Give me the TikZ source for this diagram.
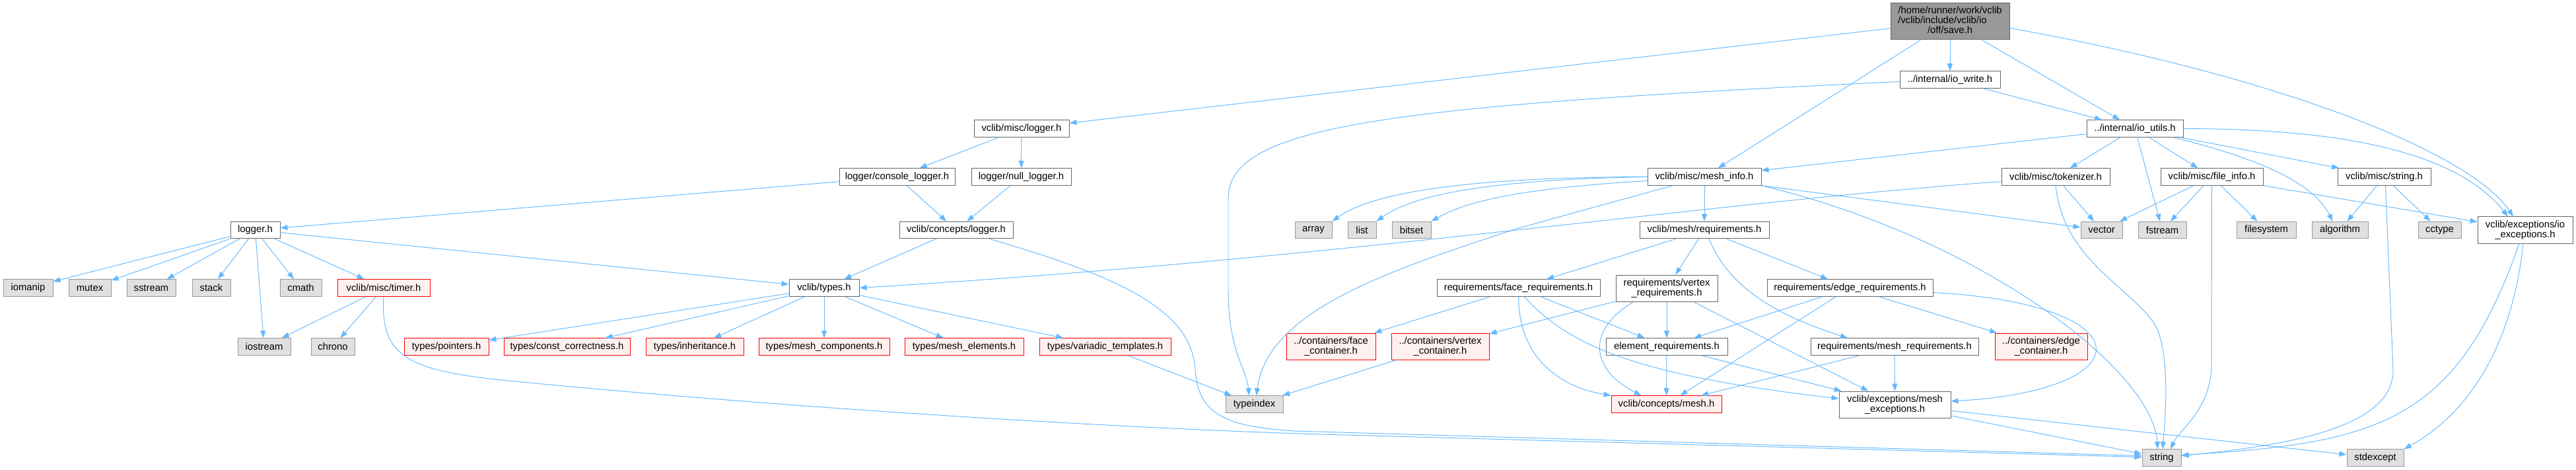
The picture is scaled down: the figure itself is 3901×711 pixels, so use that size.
\documentclass[tikz,border=0pt]{standalone}
\usepackage{fontspec}
\setmainfont{Liberation Sans}
\usepackage{tikz}
\usetikzlibrary{arrows.meta,calc}
\definecolor{edgeblue}{HTML}{63B8FF}
\definecolor{graydark}{HTML}{666666}
\definecolor{graymid}{HTML}{999999}
\definecolor{graylight}{HTML}{E0E0E0}
\definecolor{redlight}{HTML}{FFF0F0}

\begin{document}
\begin{tikzpicture}[
  x=1pt, y=-1pt,
  every node/.style={font=\fontsize{14.8}{15.3}\selectfont, inner sep=0pt, minimum height=25.5pt},
  hdr/.style={draw=graydark, fill=white, line width=1pt},
  sys/.style={draw=graymid, fill=graylight, line width=1pt},
  miss/.style={draw=red, fill=redlight, line width=1pt},
  root/.style={draw=graydark, fill=graymid, line width=1pt},
  arr/.style={-{Triangle[length=11pt,width=8pt]}, line width=0.95pt, color=edgeblue}
]
\useasboundingbox (0,0) rectangle (3901,711);

\node[root, minimum width=180pt, minimum height=55pt] (save) at (2953,32.5)
  {\begin{tabular}{@{}l@{}}/home/runner/work/vclib\\/vclib/include/vclib/io\\\multicolumn{1}{@{}c@{}}{/off/save.h}\end{tabular}};
\node[hdr, minimum width=152pt] (iowrite) at (2953,120.5) {../internal/io\_write.h};
\node[hdr, minimum width=146pt] (ioutils) at (3233,194.5) {../internal/io\_utils.h};
\node[hdr, minimum width=144pt] (mlogger) at (1547,194.5) {vclib/misc/logger.h};
\node[hdr, minimum width=175pt] (conlog) at (1358.5,267.5) {logger/console\_logger.h};
\node[hdr, minimum width=151pt] (nulllog) at (1546.5,267.5) {logger/null\_logger.h};
\node[hdr, minimum width=172pt] (clogger) at (1448,348) {vclib/concepts/logger.h};
\node[hdr, minimum width=75pt] (logger) at (386.5,348) {logger.h};
\node[hdr, minimum width=172pt] (minfo) at (2581,267.5) {vclib/misc/mesh\_info.h};
\node[hdr, minimum width=164pt] (tokenizer) at (3113,267.5) {vclib/misc/tokenizer.h};
\node[hdr, minimum width=155pt] (finfo) at (3349.5,267.5) {vclib/misc/file\_info.h};
\node[hdr, minimum width=141pt] (mstring) at (3610.5,267.5) {vclib/misc/string.h};
\node[hdr, minimum width=196pt] (meshreq) at (2581,348) {vclib/mesh/requirements.h};
\node[sys, minimum width=56pt] (array) at (1989,348) {array};
\node[sys, minimum width=43pt] (list) at (2062.5,348) {list};
\node[sys, minimum width=59pt] (bitset) at (2137.5,348) {bitset};
\node[sys, minimum width=63pt] (vector) at (3182.5,348) {vector};
\node[sys, minimum width=73pt] (fstream) at (3274.5,348) {fstream};
\node[sys, minimum width=90pt] (filesystem) at (3432,348) {filesystem};
\node[sys, minimum width=85pt] (algorithm) at (3543.5,348) {algorithm};
\node[sys, minimum width=65pt] (cctype) at (3694.5,348) {cctype};
\node[hdr, minimum width=144pt, minimum height=40pt, align=center] (ioexc) at (3824,348) {vclib/exceptions/io\\\_exceptions.h};
\node[sys, minimum width=75pt] (iomanip) at (42.5,435.5) {iomanip};
\node[sys, minimum width=64pt] (mutex) at (136,435.5) {mutex};
\node[sys, minimum width=74pt] (sstream) at (229,435.5) {sstream};
\node[sys, minimum width=58pt] (stack) at (320,435.5) {stack};
\node[sys, minimum width=63pt] (cmath) at (455.5,435.5) {cmath};
\node[miss, minimum width=140pt] (timer) at (581,435.5) {vclib/misc/timer.h};
\node[hdr, minimum width=106pt] (types) at (1248,435.5) {vclib/types.h};
\node[hdr, minimum width=247pt] (facereq) at (2299.5,435.5) {requirements/face\_requirements.h};
\node[hdr, minimum width=154pt, minimum height=40pt, align=center] (vertreq) at (2524,436) {requirements/vertex\\\_requirements.h};
\node[hdr, minimum width=251pt] (edgereq) at (2801.5,435.5) {requirements/edge\_requirements.h};
\node[sys, minimum width=80pt] (iostream) at (400,524.5) {iostream};
\node[sys, minimum width=66pt] (chrono) at (504,524.5) {chrono};
\node[miss, minimum width=128pt] (pointers) at (676,524.5) {types/pointers.h};
\node[miss, minimum width=191pt] (constcorr) at (858.5,524.5) {types/const\_correctness.h};
\node[miss, minimum width=148pt] (inherit) at (1052,524.5) {types/inheritance.h};
\node[miss, minimum width=198pt] (meshcomp) at (1248,524.5) {types/mesh\_components.h};
\node[miss, minimum width=180pt] (meshelem) at (1460,524.5) {types/mesh\_elements.h};
\node[miss, minimum width=199pt] (variadic) at (1673.5,524.5) {types/variadic\_templates.h};
\node[miss, minimum width=135pt, minimum height=40pt, align=center] (facecont) at (2015.5,524) {../containers/face\\\_container.h};
\node[miss, minimum width=148pt, minimum height=40pt, align=center] (vertcont) at (2181,524) {../containers/vertex\\\_container.h};
\node[hdr, minimum width=184pt] (elemreq) at (2524,524.5) {element\_requirements.h};
\node[hdr, minimum width=254pt] (mreq) at (2869,524.5) {requirements/mesh\_requirements.h};
\node[miss, minimum width=140pt, minimum height=40pt, align=center] (edgecont) at (3091,524) {../containers/edge\\\_container.h};
\node[sys, minimum width=87pt] (typeindex) at (1899.5,611.5) {typeindex};
\node[miss, minimum width=167pt] (cmesh) at (2523.5,611.5) {vclib/concepts/mesh.h};
\node[hdr, minimum width=169pt, minimum height=40pt, align=center] (meshexc) at (2869.5,612) {vclib/exceptions/mesh\\\_exceptions.h};
\node[sys, minimum width=59pt] (string) at (3273.5,692.5) {string};
\node[sys, minimum width=86pt] (stdexcept) at (3597,692.5) {stdexcept};

\draw[arr] (save) -- (mlogger);
\draw[arr] (save) -- (iowrite);
\draw[arr] (save) -- (ioutils);
\draw[arr] (save) -- (minfo);
\draw[arr] ($(save.east)+(0,10)$) .. controls (3450,115) and (3740,230) .. ($(ioexc.north)+(-18,0)$);
\draw[arr] (iowrite) -- (ioutils);
\draw[arr] ($(iowrite.west)+(0,3)$) .. controls (2100,160) and (1860,190) .. (1860,300) -- (1860,440)
  .. controls (1860,530) and (1888,560) .. ($(typeindex.north)+(-8,0)$);
\draw[arr] (ioutils) -- (minfo);
\draw[arr] (ioutils) -- (tokenizer);
\draw[arr] (ioutils) -- (fstream);
\draw[arr] (ioutils) -- (finfo);
\draw[arr] (ioutils) -- (mstring);
\draw[arr] ($(ioutils.south east)+(-15,0)$) .. controls (3400,235) and (3500,270) .. ($(algorithm.north)+(-11,0)$);
\draw[arr] (ioutils.east) .. controls (3550,195) and (3720,230) .. ($(ioexc.north)+(-26,0)$);

\draw[arr] (mlogger) -- (conlog);
\draw[arr] (mlogger) -- (nulllog);
\draw[arr] (conlog) -- (logger);
\draw[arr] (conlog) -- (clogger);
\draw[arr] (nulllog) -- (clogger);
\draw[arr] (clogger) -- (types);
\draw[arr] ($(clogger.south)+(50,0)$) .. controls (1700,420) and (1805,470) .. (1810,560)
  .. controls (1815,630) and (1860,645) .. (1960,652) -- ($(string.west)+(0,-3)$);

\draw[arr] (logger) -- (iomanip);
\draw[arr] (logger) -- (mutex);
\draw[arr] (logger) -- (sstream);
\draw[arr] (logger) -- (stack);
\draw[arr] (logger) -- (iostream);
\draw[arr] (logger) -- (cmath);
\draw[arr] (logger) -- (timer);
\draw[arr] (logger) -- (types);
\draw[arr] (timer) -- (iostream);
\draw[arr] (timer) -- (chrono);
\draw[arr] (timer.south) .. controls (575,540) and (620,560) .. (760,575)
  .. controls (1200,618) and (1700,648) .. (2000,657) -- ($(string.west)+(0,-1)$);

\draw[arr] (types) -- (pointers);
\draw[arr] (types) -- (constcorr);
\draw[arr] (types) -- (inherit);
\draw[arr] (types) -- (meshcomp);
\draw[arr] (types) -- (meshelem);
\draw[arr] (types) -- (variadic);
\draw[arr] (variadic) -- (typeindex);

\draw[arr] (minfo.west) .. controls (2230,268) and (2080,290) .. (array.north east);
\draw[arr] (minfo.west) .. controls (2250,272) and (2140,295) .. (list.north east);
\draw[arr] ($(minfo.west)+(0,6)$) .. controls (2300,285) and (2220,305) .. (bitset.north east);
\draw[arr] ($(minfo.south)+(-48,0)$) -- (2300,345) .. controls (2100,410) and (1920,470) .. ($(typeindex.north)+(3,0)$);
\draw[arr] (minfo) -- (meshreq);
\draw[arr] (minfo.south east) -- (vector);
\draw[arr] (minfo.south east) .. controls (3000,360) and (3260,560) .. ($(string.north)+(-6,0)$);

\draw[arr] ($(tokenizer.west)+(0,7)$) .. controls (2550,310) and (2050,390) .. (types.east);
\draw[arr] (tokenizer) -- (vector);
\draw[arr] (tokenizer.south) .. controls (3125,400) and (3240,440) .. (3268,500)
  .. controls (3285,550) and (3280,620) .. ($(string.north)+(1.5,0)$);

\draw[arr] (finfo) -- (vector);
\draw[arr] (finfo) -- (fstream);
\draw[arr] (finfo.south) -- (3349,550) .. controls (3349,620) and (3300,650) .. ($(string.north)+(13.5,0)$);
\draw[arr] (finfo) -- (filesystem);
\draw[arr] (finfo) -- (ioexc);

\draw[arr] (mstring) -- (algorithm);
\draw[arr] (mstring) -- (cctype);
\draw[arr] ($(mstring.south)+(2,0)$) -- (3624,560) .. controls (3625,650) and (3450,675) .. ($(string.east)+(0,-3)$);

\draw[arr] (meshreq) -- (facereq);
\draw[arr] (meshreq) -- (vertreq);
\draw[arr] (meshreq) -- (edgereq);
\draw[arr] ($(meshreq.south)+(7,0)$) .. controls (2620,440) and (2700,480) .. ($(mreq.north)+(-71,0)$);

\draw[arr] (facereq) -- (facecont);
\draw[arr] (facereq) -- (elemreq);
\draw[arr] (facereq.south) .. controls (2300,540) and (2360,585) .. (cmesh.north west);
\draw[arr] ($(facereq.south)+(9,0)$) .. controls (2380,530) and (2500,570) .. ($(meshexc.west)+(0,-9)$);

\draw[arr] (vertreq) -- (vertcont);
\draw[arr] (vertreq) -- (elemreq);
\draw[arr] ($(vertreq.south)+(-50,0)$) .. controls (2400,500) and (2410,560) .. ($(cmesh.north)+(-38,0)$);
\draw[arr] (vertreq) -- (meshexc);

\draw[arr] (edgereq) -- (edgecont);
\draw[arr] (edgereq) -- (elemreq);
\draw[arr] (edgereq) -- (cmesh);
\draw[arr] ($(edgereq.east)+(0,7)$) .. controls (3250,460) and (3250,590) .. ($(meshexc.east)+(0,-5)$);

\draw[arr] (elemreq) -- (cmesh);
\draw[arr] (elemreq) -- (meshexc);
\draw[arr] (mreq) -- (cmesh);
\draw[arr] (mreq) -- (meshexc);
\draw[arr] (vertcont) -- (typeindex);

\draw[arr] (meshexc) -- (string);
\draw[arr] (meshexc) -- (stdexcept);
\draw[arr] ($(ioexc.south)+(-9,0)$) .. controls (3720,640) and (3600,670) .. ($(string.east)+(0,-4)$);
\draw[arr] ($(ioexc.south)+(-3,0)$) .. controls (3805,520) and (3740,625) .. (stdexcept.north east);
\end{tikzpicture}
\end{document}
